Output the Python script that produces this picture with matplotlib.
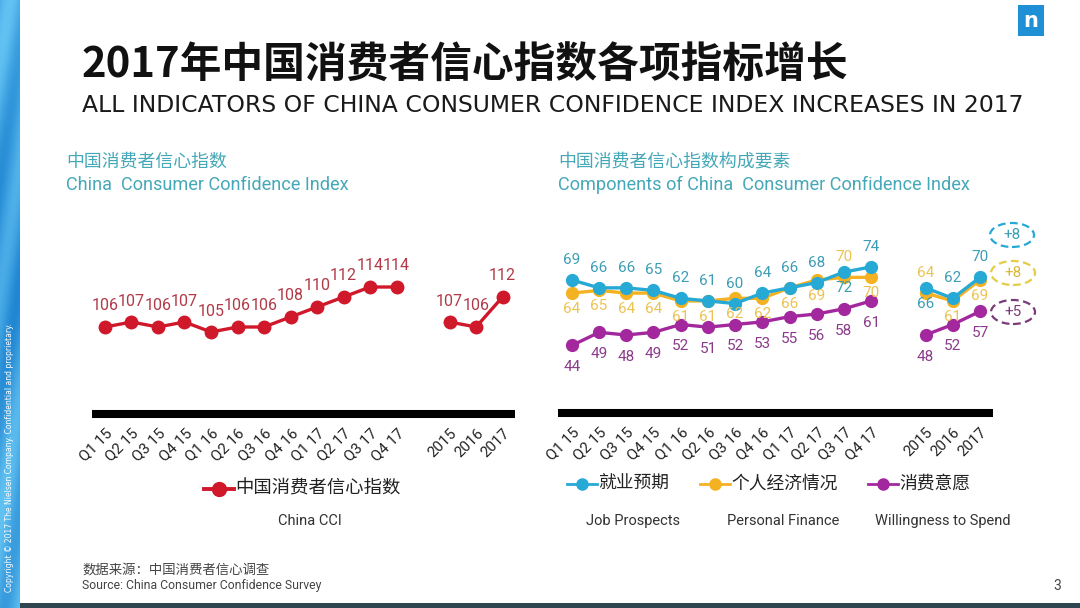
import numpy as np
import matplotlib
matplotlib.use('Agg')
import matplotlib.pyplot as plt
from matplotlib.patches import Rectangle, Ellipse
from matplotlib.lines import Line2D

plt.rcParams['font.family'] = ['Noto Sans CJK SC', 'DejaVu Sans']

# ---------------- data ----------------
quarters = ['Q1 15', 'Q2 15', 'Q3 15', 'Q4 15', 'Q1 16', 'Q2 16', 'Q3 16', 'Q4 16',
            'Q1 17', 'Q2 17', 'Q3 17', 'Q4 17']
years = ['2015', '2016', '2017']

cci_q = [106, 107, 106, 107, 105, 106, 106, 108, 110, 112, 114, 114]
cci_y = [107, 106, 112]

job_q = [69, 66, 66, 65, 62, 61, 60, 64, 66, 68, 72, 74]
job_y = [66, 62, 70]
fin_q = [64, 65, 64, 64, 61, 61, 62, 62, 66, 69, 70, 70]
fin_y = [64, 61, 69]
spend_q = [44, 49, 48, 49, 52, 51, 52, 53, 55, 56, 58, 61]
spend_y = [48, 52, 57]

changes = ['+8', '+8', '+5']

series_cn = ['就业预期', '个人经济情况', '消费意愿']
series_en = ['Job Prospects', 'Personal Finance', 'Willingness to Spend']

# ---------------- layout helpers ----------------
W, H = 1080, 608
fig = plt.figure(figsize=(W / 100, H / 100), dpi=100)
fig.patch.set_facecolor('white')


def fx(px):
    return px / W


def fy(py):
    return 1 - py / H


RED, RED_T = '#d0182b', '#b23a48'
BLUE, BLUE_T = '#27a9d6', '#3c9db5'
YEL, YEL_T = '#f4b223', '#ecc252'
PUR, PUR_T = '#a3289e', '#8b3a8b'
TEAL = '#45a8b8'

q_pos = np.arange(len(quarters))
y_pos = np.arange(len(years)) + len(quarters) + 1
all_pos = list(q_pos) + list(y_pos)
all_labels = quarters + years


def style_axis(ax):
    for s in ['top', 'right', 'left']:
        ax.spines[s].set_visible(False)
    ax.spines['bottom'].set_linewidth(5.8)
    ax.spines['bottom'].set_color('black')
    ax.spines['bottom'].set_capstyle('butt')
    ax.set_yticks([])
    ax.set_facecolor('none')
    ax.set_xticks(all_pos)
    ax.set_xticklabels(all_labels, rotation=45, ha='right', rotation_mode='anchor',
                       fontsize=10.8, color='#222222', family=['Roboto', 'DejaVu Sans'])
    ax.tick_params(axis='x', length=0, pad=9)


# ---------------- left chart ----------------
axL = fig.add_axes([fx(92), fy(414), (515 - 92) / W, (414 - 230) / H])
axL.set_xlim(-0.49, 15.47)
axL.set_ylim(88.6, 125.4)
style_axis(axL)
for xs, vs in [(q_pos, cci_q), (y_pos, cci_y)]:
    axL.plot(xs, vs, '-o', color=RED, lw=2.4, ms=9, zorder=3)
    for x, v in zip(xs, vs):
        axL.annotate(str(v), (x, v), xytext=(0, 21), textcoords='offset pixels',
                     ha='center', va='center', fontsize=11.5, color=RED_T,
                     family=['Roboto', 'DejaVu Sans'])

# ---------------- right chart ----------------
axR = fig.add_axes([fx(558), fy(412.5), (993 - 558) / W, (412.5 - 220) / H])
axR.set_xlim(-0.51, 15.48)
axR.set_ylim(18.4, 91.9)
style_axis(axR)

ABOVE, BELOW = 20, -16
job_side = [ABOVE] * 10 + [BELOW, ABOVE] + [BELOW, ABOVE, ABOVE]
fin_side = [BELOW] * 10 + [ABOVE, BELOW] + [ABOVE, BELOW, BELOW]
spend_side = [-22] * 15

for qv, yv, col, tcol, sides, z in [
        (fin_q, fin_y, YEL, YEL_T, fin_side, 3),
        (job_q, job_y, BLUE, BLUE_T, job_side, 4),
        (spend_q, spend_y, PUR, PUR_T, spend_side, 3)]:
    axR.plot(q_pos, qv, '-o', color=col, lw=2.4, ms=8.5, zorder=z)
    axR.plot(y_pos, yv, '-o', color=col, lw=2.4, ms=8.5, zorder=z)
    for x, v, s in zip(all_pos, list(qv) + list(yv), sides):
        axR.annotate(str(v), (x, v), xytext=(0, s), textcoords='offset pixels',
                     ha='center', va='center', fontsize=11, color=tcol, zorder=5,
                     family=['Roboto', 'DejaVu Sans'])

# change ellipses
for (cx, cy), txt, ec, tc in zip([(1012, 235), (1013, 273), (1013, 312)], changes,
                                 [BLUE, '#e6cc45', '#7a3a7a'], [BLUE_T, '#d9b735', '#7a3a7a']):
    fig.add_artist(Ellipse((fx(cx), fy(cy)), 44 / W, 24 / H, transform=fig.transFigure,
                           fill=False, ls=(0, (3.5, 2)), lw=1.6, ec=ec))
    fig.text(fx(cx), fy(cy), txt, ha='center', va='center', fontsize=11, color=tc,
             family=['Roboto', 'DejaVu Sans'])

# ---------------- legends ----------------
def legend_item(x0, y, color, label, fs, lw=2.6, ms=9):
    fig.add_artist(Line2D([fx(x0), fx(x0 + 30)], [fy(y), fy(y)], transform=fig.transFigure,
                          color=color, lw=lw))
    fig.add_artist(Line2D([fx(x0 + 15)], [fy(y)], transform=fig.transFigure, marker='o',
                          ms=ms, color=color, lw=0))
    fig.text(fx(x0 + 31), fy(y), label, ha='left', va='center', fontsize=fs, color='#222222')


legend_item(204, 489, RED, '中国消费者信心指数', 13.2, lw=2.8, ms=10)
fig.text(fx(310), fy(521), 'China CCI', ha='center', va='center', fontsize=10.5,
         color='#333333', family=['Roboto', 'DejaVu Sans'])

for x0, col, cn in zip([567, 700, 868], [BLUE, YEL, PUR], series_cn):
    legend_item(x0, 484, col, cn, 12.8, lw=2.0, ms=8)
for xc, en in zip([633, 783, 943], series_en):
    fig.text(fx(xc), fy(521), en, ha='center', va='center', fontsize=10.5,
             color='#333333', family=['Roboto', 'DejaVu Sans'])

# ---------------- headers ----------------
renderer = fig.canvas.get_renderer()


def fit(t, width_px):
    bb = t.get_window_extent(renderer=renderer)
    t.set_fontsize(t.get_fontsize() * width_px / bb.width)


t1 = fig.text(fx(82), fy(66), '2017年中国消费者信心指数各项指标增长', ha='left', va='center',
              fontsize=30, weight='bold', color='#111111')
fit(t1, 766)
t2 = fig.text(fx(82), fy(106), 'ALL INDICATORS OF CHINA CONSUMER CONFIDENCE INDEX INCREASES IN 2017',
              ha='left', va='center', fontsize=16, color='#1a1a1a', family=['DejaVu Sans'])
fit(t2, 940)

h1 = fig.text(fx(66), fy(162), '中国消费者信心指数', ha='left', va='center', fontsize=13, color=TEAL)
fit(h1, 160)
t3 = fig.text(fx(66), fy(185), 'China  Consumer Confidence Index', ha='left', va='center',
              fontsize=12.5, color=TEAL, family=['Roboto', 'DejaVu Sans'])
fit(t3, 283)
h2 = fig.text(fx(558), fy(162), '中国消费者信心指数构成要素', ha='left', va='center', fontsize=13,
              color=TEAL)
fit(h2, 232)
t4 = fig.text(fx(558), fy(185), 'Components of China  Consumer Confidence Index', ha='left',
              va='center', fontsize=12.5, color=TEAL, family=['Roboto', 'DejaVu Sans'])
fit(t4, 410)

# footer
f1 = fig.text(fx(82), fy(570), '数据来源：中国消费者信心调查', ha='left', va='center', fontsize=9.5,
              color='#444444')
fit(f1, 188)
f2 = fig.text(fx(82), fy(586), 'Source: China Consumer Confidence Survey', ha='left', va='center',
              fontsize=9.3, color='#444444', family=['Roboto', 'DejaVu Sans'])
fit(f2, 240)
fig.text(fx(1057), fy(586), '3', ha='center', va='center', fontsize=10, color='#444444',
         family=['Roboto', 'DejaVu Sans'])

# bottom rule
fig.add_artist(Rectangle((fx(20), fy(608)), (W - 20) / W, 5 / H, transform=fig.transFigure,
                         color='#2f4650', lw=0))

# left decorative strip
axS = fig.add_axes([0, 0, 20 / W, 1])
axS.axis('off')
yy, xx = np.mgrid[0:300, 0:20]
base = 0.55 + 0.25 * np.sin(yy / 18.0 + xx / 6.0) + 0.15 * np.cos(yy / 43.0)
c1 = np.array([0.08, 0.48, 0.80])
c2 = np.array([0.40, 0.78, 0.96])
img = c1[None, None, :] + (c2 - c1)[None, None, :] * np.clip(base, 0, 1)[:, :, None]
axS.imshow(img, aspect='auto', extent=[0, 1, 0, 1])
axS.set_xlim(0, 1)
axS.set_ylim(0, 1)
fig.text(fx(10), fy(592), 'Copyright © 2017 The Nielsen Company. Confidential and proprietary.',
         rotation=90, ha='center', va='bottom', fontsize=5.5, color='white',
         family=['DejaVu Sans'])

# logo
fig.add_artist(Rectangle((fx(1018), fy(36)), 26 / W, 31 / H, transform=fig.transFigure,
                         color='#1f8fd6', lw=0))
fig.text(fx(1031), fy(21), 'n', ha='center', va='center', fontsize=15, weight='bold',
         color='white', family=['DejaVu Sans'])

fig.savefig('out.png', dpi=100)
